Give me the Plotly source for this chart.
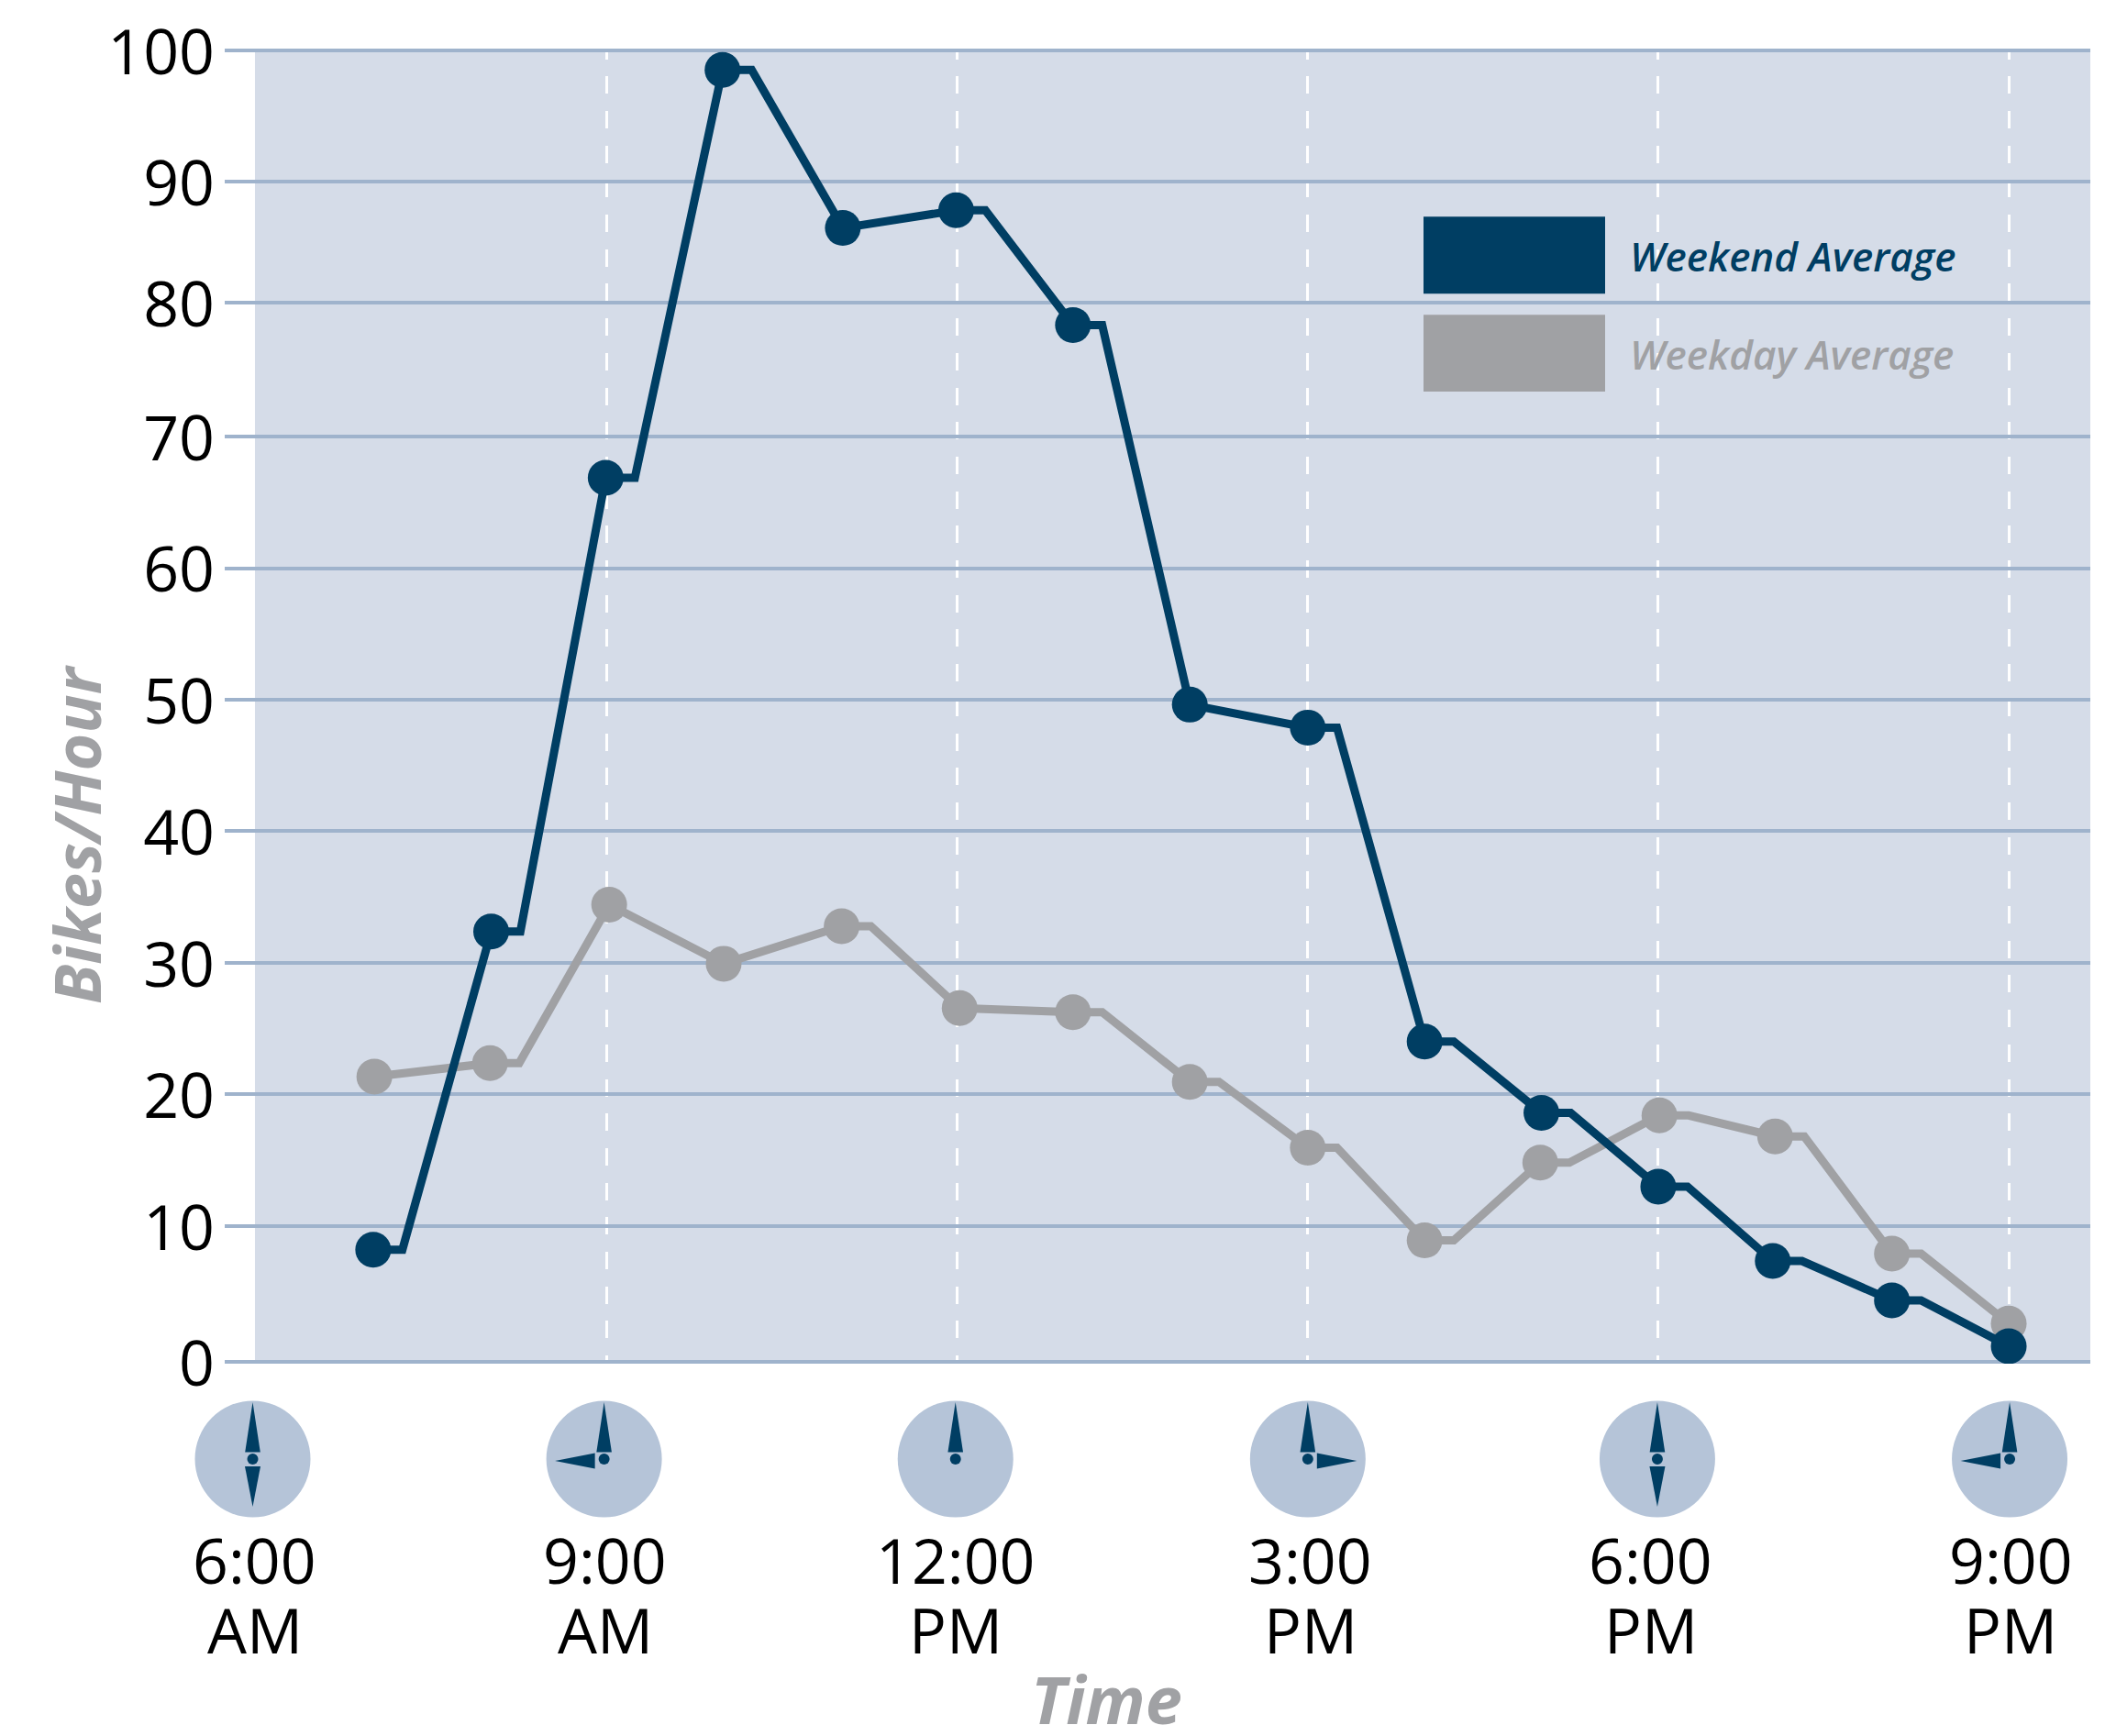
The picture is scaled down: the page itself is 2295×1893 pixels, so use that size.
import plotly.graph_objects as go

hours_weekend = [7, 8.01, 8.99, 9.99, 11.02, 11.99, 12.99, 13.99, 15, 16, 17, 18, 18.98, 20, 21]
weekend = [8.53, 32.8, 67.4, 98.5, 86.45, 87.8, 79.05, 50.1, 48.35, 24.4, 18.97, 13.34, 7.67, 4.66, 1.17]
weekend_stub = [1, 1, 1, 1, 0, 1, 1, 0, 1, 1, 1, 1, 1, 1, 0]

hours_weekday = [7.01, 8, 9.02, 10, 11.01, 12.02, 12.99, 13.99, 15, 16, 16.99, 18.01, 19, 20, 21]
weekday = [21.73, 22.76, 34.84, 30.34, 33.2, 26.96, 26.65, 21.33, 16.31, 9.24, 15.18, 18.77, 17.17, 8.23, 2.9]
weekday_stub = [0, 1, 0, 0, 1, 0, 1, 1, 1, 1, 1, 1, 1, 1, 0]

y_tick_text = ["0", "10", "20", "30", "40", "50", "60", "70", "80", "90", "100"]
y_tick_pos = [0, 10.33, 20.38, 30.4, 40.45, 50.47, 60.5, 70.56, 80.75, 90.0, 100]

clock_hours = [6, 9, 12, 15, 18, 21]
clock_shift = [-4, -3, -2, 0, -1, 1]
clock_second_hand = ["down", "left", None, "right", "down", "left"]
clock_top = ["6:00", "9:00", "12:00", "3:00", "6:00", "9:00"]
clock_bottom = ["AM", "AM", "PM", "PM", "PM", "PM"]
label_shift = [-2, -2, -2, 3, -8, 2]

legend_labels = ["Weekend Average", "Weekday Average"]

NAVY = "#003E63"
GRAY = "#A0A1A4"
PANEL = "#D5DCE8"
GRID = "#9FB3CC"
FACE = "#B5C4D8"
FONT = "Open Sans"

W, H = 2295, 1893
L, R, B = 245, 2279, 1487
Y0, Y1 = -0.16, 100.2
T = 54.7 - 0.2 * 14.3
X0 = 6 - (279.5 - L) / 127.37
X1 = 6 + (R - 279.5) / 127.37


def stepped(hours, values, flags, stub=0.25):
    xs, ys = [], []
    for h, v, f in zip(hours, values, flags):
        xs.append(h)
        ys.append(v)
        if f:
            xs.append(h + stub)
            ys.append(v)
    return xs, ys


def px_x(p):
    return (p - L) / (R - L)


def px_y(p):
    return (B - p) / (B - T)


fig = go.Figure()
for name, hrs, vals, flags, col in [
    ("Weekday Average", hours_weekday, weekday, weekday_stub, GRAY),
    ("Weekend Average", hours_weekend, weekend, weekend_stub, NAVY),
]:
    lx, ly = stepped(hrs, vals, flags)
    fig.add_trace(go.Scatter(x=lx, y=ly, mode="lines", name=name, showlegend=False,
                             line=dict(color=col, width=9, shape="linear")))
    fig.add_trace(go.Scatter(x=hrs, y=vals, mode="markers", name=name, showlegend=False,
                             marker=dict(color=col, size=39, line=dict(width=0))))

shapes = [dict(type="rect", layer="below", xref="x", yref="y", x0=5.988, x1=X1, y0=Y0, y1=100,
               fillcolor=PANEL, line=dict(width=0))]

annotations = []
HANDS = {
    "up": "M -8.3 7.4 L 0 62 L 8.3 7.4 Z",
    "down": "M -8.5 -8 L 0 -52 L 8.5 -8 Z",
    "left": "M -10 6.5 L -53.5 -2 L -10 -10.5 Z",
    "right": "M 10 6.5 L 53.5 -2 L 10 -10.5 Z",
}
for h, s, second, top, bottom, ls in zip(clock_hours, clock_shift, clock_second_hand,
                                         clock_top, clock_bottom, label_shift):
    ax = (h - X0) / (X1 - X0) + s / (R - L)
    ay = px_y(1591)
    base = dict(xref="paper", yref="paper", xsizemode="pixel", ysizemode="pixel",
                xanchor=ax, yanchor=ay, layer="above", line=dict(width=0))
    shapes.append(dict(type="circle", x0=-63, x1=63, y0=-63.5, y1=63.5, fillcolor=FACE, **base))
    shapes.append(dict(type="circle", x0=-6, x1=6, y0=-6, y1=6, fillcolor=NAVY, **base))
    shapes.append(dict(type="path", path=HANDS["up"], fillcolor=NAVY, **base))
    if second:
        shapes.append(dict(type="path", path=HANDS[second], fillcolor=NAVY, **base))
    for text, py in ((top, 1700.5), (bottom, 1777)):
        annotations.append(dict(text=text, x=(h - X0) / (X1 - X0) + ls / (R - L), y=px_y(py),
                                xref="paper", yref="paper", xanchor="center", yanchor="middle",
                                showarrow=False, font=dict(family=FONT, size=68, color="black")))

for label, col, y0, y1, ty in [
    (legend_labels[0], NAVY, 236, 320, 279),
    (legend_labels[1], GRAY, 343, 427, 386),
]:
    shapes.append(dict(type="rect", xref="paper", yref="paper", layer="above",
                       x0=px_x(1552), x1=px_x(1750), y0=px_y(y1), y1=px_y(y0),
                       fillcolor=col, line=dict(width=0)))
    annotations.append(dict(text=label, x=px_x(1775), y=px_y(ty), xref="paper", yref="paper",
                            xanchor="left", yanchor="middle", showarrow=False,
                            font=dict(family=FONT, size=44, color=col, style="italic", weight=600)))

annotations.append(dict(text="Bikes/Hour", x=px_x(83), y=px_y(910), xref="paper", yref="paper",
                        textangle=-90, showarrow=False, xanchor="center", yanchor="middle",
                        font=dict(family=FONT, size=70, color=GRAY, style="italic", weight=700)))
annotations.append(dict(text="Time", x=px_x(1206), y=px_y(1852), xref="paper", yref="paper",
                        showarrow=False, xanchor="center", yanchor="middle",
                        font=dict(family=FONT, size=72, color=GRAY, style="italic", weight=700)))

dash = "12.5px,18.7px," + ",".join(["19px,18.7px"] * 60)
fig.update_layout(
    width=W, height=H, autosize=False,
    margin=dict(l=L, r=W - R, t=T, b=H - B, pad=0),
    paper_bgcolor="white", plot_bgcolor="rgba(0,0,0,0)",
    showlegend=False, shapes=shapes, annotations=annotations,
    font=dict(family=FONT, color="black"),
    xaxis=dict(range=[X0, X1], tickmode="array", tickvals=clock_hours[1:], showticklabels=False,
               ticks="", showgrid=True, gridcolor="white", gridwidth=3.3, griddash=dash,
               zeroline=False, showline=False, automargin=False),
    yaxis=dict(range=[Y0, Y1], tickmode="array", tickvals=y_tick_pos, ticktext=y_tick_text,
               ticks="", ticklabelstandoff=10, ticklabelshift=2,
               tickfont=dict(family=FONT, size=68, color="black"),
               showgrid=True, gridcolor=GRID, gridwidth=4, zeroline=False, showline=False,
               automargin=False),
)

fig.write_html("out.html", config=dict(displayModeBar=False),
               post_script="document.body.style.margin='0';")
